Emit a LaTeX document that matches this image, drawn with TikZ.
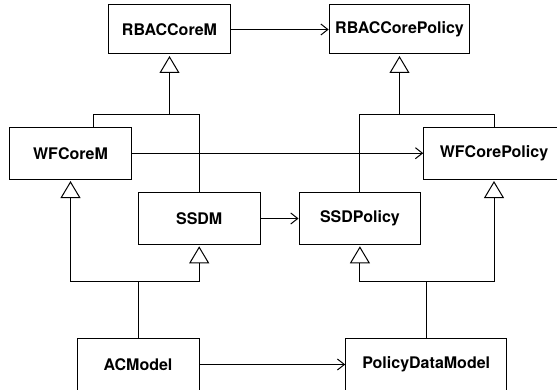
\documentclass[tikz,border=0pt]{standalone}
\usepackage{fontspec}
\setmainfont{TeX Gyre Heros}
\usetikzlibrary{arrows.meta}
\begin{document}
\begin{tikzpicture}[x=1pt,y=-1pt,
  cls/.style={draw=black,line width=1pt,fill=white,inner sep=0pt,
    font=\fontsize{16}{19}\selectfont\bfseries,align=center},
  assoc/.style={draw=black,line width=1pt,-{Straight Barb[length=7pt,width=11pt,line width=1pt]}},
  inh/.style={draw=black,line width=1pt,-{Triangle[open,length=17pt,width=20pt,line width=1pt]},shorten >=1.5pt},
  link/.style={draw=black,line width=1pt}]
\useasboundingbox (0,0) rectangle (557,390);
\clip (0,0) rectangle (557,390);
\fill[white] (0,0) rectangle (557,390);
% classes
\node[cls,minimum width=122.4pt,minimum height=49pt] (rcm) at (169.5,29.5) {RBACCoreM};
\node[cls,minimum width=140.7pt,minimum height=49pt] (rcp) at (399.5,29.5) {RBACCorePolicy};
\node[cls,minimum width=122.4pt,minimum height=51.7pt] (wfm) at (70.5,153.2) {WFCoreM};
\node[cls,minimum width=140.6pt,minimum height=51.7pt] (wfp) at (494,153.2) {WFCorePolicy};
\node[cls,minimum width=121.7pt,minimum height=51.6pt] (ssdm) at (199.2,218.5) {SSDM};
\node[cls,minimum width=121.7pt,minimum height=51.6pt] (ssdp) at (359.9,218.5) {SSDPolicy};
\node[cls,minimum width=122pt,minimum height=51.4pt] (acm) at (138,364.5) {ACModel};
\node[cls,minimum width=161pt,minimum height=51.4pt] (pdm) at (426.2,364.5) {PolicyDataModel};
% junctions
\coordinate (j1) at (rcm.south |- 0,114.3);
\coordinate (j2) at (rcp.south |- 0,114.3);
\coordinate (j3) at (acm.north |- 0,281.7);
\coordinate (j4) at (pdm.north |- 0,281.2);
% associations
\draw[assoc] (rcm.east) -- (rcp.west);
\draw[assoc] (wfm.east) -- (wfp.west);
\draw[assoc] (ssdm.east) -- (ssdp.west);
\draw[assoc] (acm.east) -- (pdm.west);
% generalisations, upper level
\draw[link] ([xshift=22.5pt]wfm.north) |- (j1);
\draw[link] (ssdm.north) |- (j1);
\draw[inh] (j1) -- (rcm.south);
\draw[link] (ssdp.north) |- (j2);
\draw[link] (wfp.north) |- (j2);
\draw[inh] (j2) -- (rcp.south);
% generalisations, lower level
\draw[link] (acm.north) -- (j3);
\draw[inh] (j3) -| (wfm.south);
\draw[inh] (j3) -| (ssdm.south);
\draw[link] (pdm.north) -- (j4);
\draw[inh] (j4) -| (ssdp.south);
\draw[inh] (j4) -| (wfp.south);
\end{tikzpicture}
\end{document}
